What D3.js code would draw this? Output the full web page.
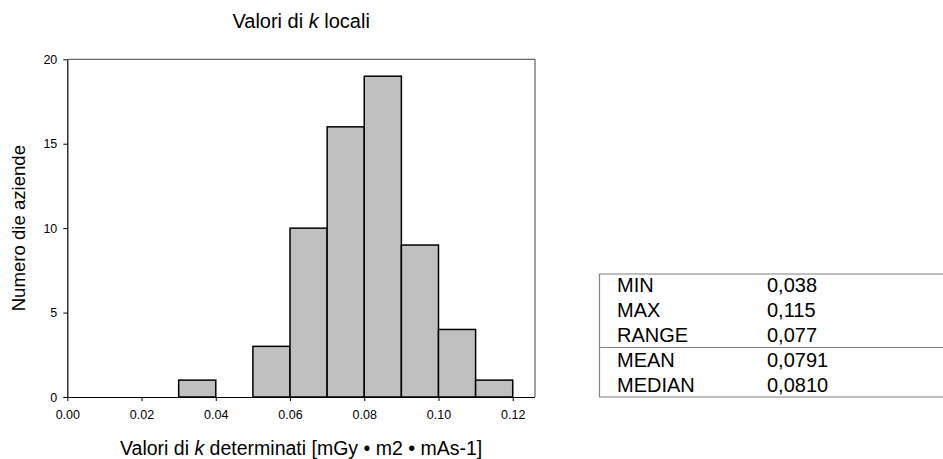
<!DOCTYPE html>
<html>
<head>
<meta charset="utf-8">
<script src="https://cdn.jsdelivr.net/npm/d3@7"></script>
<style>
  html, body { margin: 0; padding: 0; background: #fff; }
  svg { display: block; font-family: Arial, "Liberation Sans", sans-serif; }
</style>
</head>
<body>
<svg id="chart" width="943" height="459"></svg>
<script>
// ---- data ----
const binStarts = [0.00, 0.01, 0.02, 0.03, 0.04, 0.05, 0.06, 0.07, 0.08, 0.09, 0.10, 0.11];
const binCounts = [0, 0, 0, 1, 0, 3, 10, 16, 19, 9, 4, 1];
const binWidth = 0.01;
const xTicks = [0.00, 0.02, 0.04, 0.06, 0.08, 0.10, 0.12];
const yTicks = [0, 5, 10, 15, 20];
const statLabels = ["MIN", "MAX", "RANGE", "MEAN", "MEDIAN"];
const statValues = ["0,038", "0,115", "0,077", "0,0791", "0,0810"];

const svg = d3.select("#chart");
const pL = 67.3, pR = 535, pT = 59.3, pB = 397;

const x = d3.scaleLinear().domain([0, 0.126]).range([pL, pR]);
const y = d3.scaleLinear().domain([0, 20]).range([pB, pT]);

// plot frame (top/right)
svg.append("path")
  .attr("d", `M${pL},${pT}H${pR}V${pB}`)
  .attr("fill", "none").attr("stroke", "#444").attr("stroke-width", 1);

// bars
const bins = binStarts.map((s, i) => ({ x0: s, x1: s + binWidth, n: binCounts[i] })).filter(d => d.n > 0);
svg.append("g").selectAll("rect").data(bins).join("rect")
  .attr("x", d => x(d.x0))
  .attr("y", d => y(d.n))
  .attr("width", d => x(d.x1) - x(d.x0))
  .attr("height", d => y(0) - y(d.n))
  .attr("fill", "#c0c0c0")
  .attr("stroke", "#000")
  .attr("stroke-width", 1.5);

// axes
const xAxis = d3.axisBottom(x).tickValues(xTicks).tickFormat(d3.format(".2f")).tickSize(4).tickSizeOuter(0).tickPadding(9);
const gx = svg.append("g").attr("transform", `translate(0,${pB})`).call(xAxis);
gx.select(".domain").attr("stroke", "#000").attr("stroke-width", 1.2).attr("d", `M${pL},0.5H${pR}`);
gx.selectAll("text").attr("font-size", 12.5).attr("fill", "#000").attr("font-family", "Arial, 'Liberation Sans', sans-serif");
gx.selectAll(".tick line").attr("stroke", "#000");

const yAxis = d3.axisLeft(y).tickValues(yTicks).tickSize(4).tickSizeOuter(0).tickPadding(6);
const gy = svg.append("g").attr("transform", `translate(${pL},0)`).call(yAxis);
gy.select(".domain").attr("stroke", "#000").attr("stroke-width", 1.2);
gy.selectAll("text").attr("font-size", 12.5).attr("fill", "#000").attr("font-family", "Arial, 'Liberation Sans', sans-serif");
gy.selectAll(".tick line").attr("stroke", "#000");

// title
const title = svg.append("text").attr("x", (pL + pR) / 2).attr("y", 28)
  .attr("text-anchor", "middle").attr("font-size", 20).attr("fill", "#000");
title.append("tspan").text("Valori di ");
title.append("tspan").attr("font-style", "italic").text("k");
title.append("tspan").text(" locali");

// x label
const xl = svg.append("text").attr("x", (pL + pR) / 2).attr("y", 455)
  .attr("text-anchor", "middle").attr("font-size", 19.5).attr("fill", "#000");
xl.append("tspan").text("Valori di ");
xl.append("tspan").attr("font-style", "italic").text("k");
xl.append("tspan").text(" determinati [mGy \u2022 m2 \u2022 mAs-1]");

// y label
svg.append("text")
  .attr("transform", `translate(25,${(pT + pB) / 2}) rotate(-90)`)
  .attr("text-anchor", "middle").attr("font-size", 18.6).attr("fill", "#000")
  .text("Numero die aziende");

// stats table
const tLeft = 599.5, tTop = 274, tDiv = 347.5, tBottom = 397, tRight = 950;
const tbl = svg.append("g");
tbl.append("path")
  .attr("d", `M${tRight},${tTop}H${tLeft}V${tBottom}H${tRight}M${tLeft},${tDiv}H${tRight}`)
  .attr("fill", "none").attr("stroke", "#808080").attr("stroke-width", 1.2);
const rowY = d3.scalePoint().domain(statLabels).range([285, 385]);
tbl.selectAll("text.lab").data(statLabels).join("text").attr("class", "lab")
  .attr("x", 617).attr("y", d => rowY(d)).attr("dy", "0.35em")
  .attr("font-size", 20).attr("fill", "#000").text(d => d);
tbl.selectAll("text.val").data(statLabels).join("text").attr("class", "val")
  .attr("x", 767).attr("y", d => rowY(d)).attr("dy", "0.35em")
  .attr("font-size", 20).attr("fill", "#000").text((d, i) => statValues[i]);
</script>
</body>
</html>
